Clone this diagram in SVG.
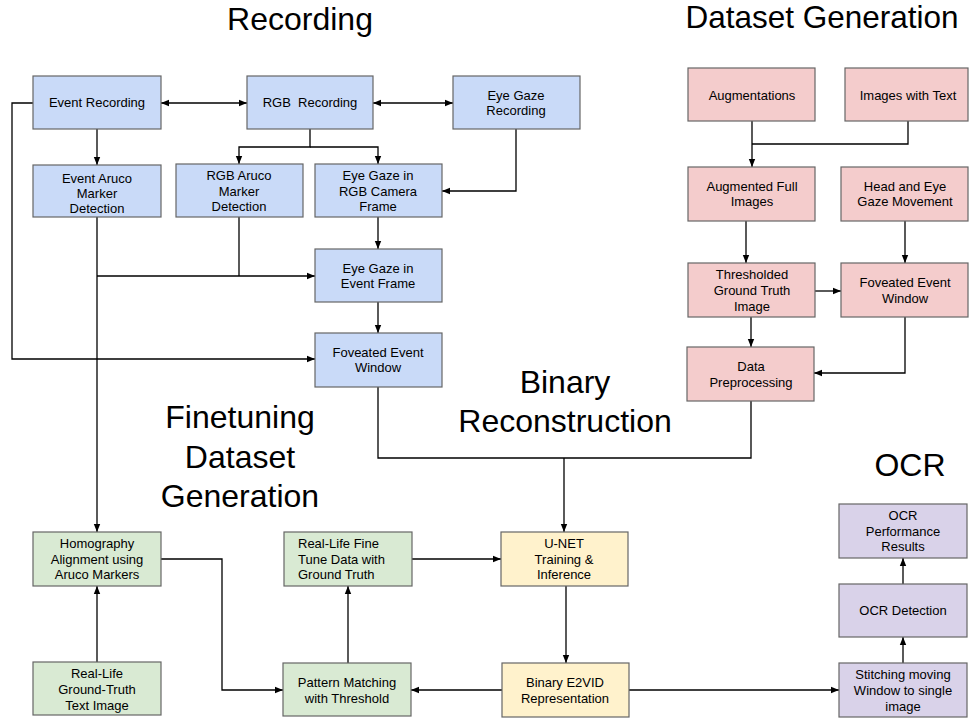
<svg xmlns="http://www.w3.org/2000/svg" width="969" height="719" viewBox="0 0 969 719">
<style>
.box{stroke:#666;stroke-width:1.2}
.b{fill:#c9daf8}.p{fill:#f4cccc}.g{fill:#d9ead3}.y{fill:#fff2cc}.v{fill:#d9d2e9}
text{font-family:"Liberation Sans",Arial,sans-serif;fill:#000}
.t{font-size:13px;text-anchor:middle}
.tl{font-size:13px}
.h{font-size:32px;text-anchor:middle}
.c{fill:none;stroke:#000;stroke-width:1.3}
</style>
<defs>
<marker id="a" viewBox="0 0 10 10" refX="10" refY="5" markerWidth="8" markerHeight="8" markerUnits="userSpaceOnUse" orient="auto-start-reverse">
<path d="M0,1 L10,5 L0,9 z" fill="#000"/>
</marker>
</defs>
<rect width="969" height="719" fill="#fff"/>
<g id="titles">
<text class="h" x="300" y="30">Recording</text>
<text class="h" x="822" y="28" style="font-size:31.5px">Dataset Generation</text>
<text class="h" x="565" y="393">Binary</text>
<text class="h" x="565" y="432">Reconstruction</text>
<text class="h" x="240" y="428">Finetuning</text>
<text class="h" x="240" y="468">Dataset</text>
<text class="h" x="240" y="507">Generation</text>
<text class="h" x="910" y="476">OCR</text>
</g>
<g id="connectors">
<path class="c" d="M161,103 H247" marker-start="url(#a)" marker-end="url(#a)"/>
<path class="c" d="M373,103 H453" marker-start="url(#a)" marker-end="url(#a)"/>
<path class="c" d="M97,129 V165" marker-end="url(#a)"/>
<path class="c" d="M310,129 V147 H239 V164" marker-end="url(#a)"/>
<path class="c" d="M310,147 H378 V164" marker-end="url(#a)"/>
<path class="c" d="M516,129 V191 H442" marker-end="url(#a)"/>
<path class="c" d="M33,103 H12 V359 H315" marker-end="url(#a)"/>
<path class="c" d="M97,217 V532" marker-end="url(#a)"/>
<path class="c" d="M97,276 H315" marker-end="url(#a)"/>
<path class="c" d="M239,217 V276"/>
<path class="c" d="M378,217 V249" marker-end="url(#a)"/>
<path class="c" d="M378,302 V333" marker-end="url(#a)"/>
<path class="c" d="M378,387 V458 H751 V401"/>
<path class="c" d="M564,458 V532" marker-end="url(#a)"/>
<path class="c" d="M752,121 V167" marker-end="url(#a)"/>
<path class="c" d="M908,121 V144 H752"/>
<path class="c" d="M746,221 V263" marker-end="url(#a)"/>
<path class="c" d="M905,221 V263" marker-end="url(#a)"/>
<path class="c" d="M815,291 H841" marker-end="url(#a)"/>
<path class="c" d="M751,317 V347" marker-end="url(#a)"/>
<path class="c" d="M905,317 V373 H814" marker-end="url(#a)"/>
<path class="c" d="M97,662 V586" marker-end="url(#a)"/>
<path class="c" d="M161,559 H222 V690 H283" marker-end="url(#a)"/>
<path class="c" d="M348,663 V586" marker-end="url(#a)"/>
<path class="c" d="M412,559 H501" marker-end="url(#a)"/>
<path class="c" d="M566,586 V663" marker-end="url(#a)"/>
<path class="c" d="M502,690 H411" marker-end="url(#a)"/>
<path class="c" d="M629,690 H839" marker-end="url(#a)"/>
<path class="c" d="M903,663 V637" marker-end="url(#a)"/>
<path class="c" d="M903,584 V558" marker-end="url(#a)"/>
</g>
<g id="event-recording"><rect class="box b" x="33" y="76" width="128" height="53"/><text class="t" x="97" y="107">Event Recording</text></g>
<g id="rgb-recording"><rect class="box b" x="247" y="76" width="126" height="53"/><text class="t" x="310" y="107" xml:space="preserve">RGB  Recording</text></g>
<g id="eye-gaze-recording"><rect class="box b" x="453" y="76" width="127" height="53"/><text class="t" x="516" y="100">Eye Gaze</text><text class="t" x="516" y="115">Recording</text></g>
<g id="event-aruco"><rect class="box b" x="33" y="165" width="128" height="52"/><text class="t" x="97" y="183">Event Aruco</text><text class="t" x="97" y="198">Marker</text><text class="t" x="97" y="213">Detection</text></g>
<g id="rgb-aruco"><rect class="box b" x="176" y="164" width="127" height="53"/><text class="t" x="239" y="180">RGB Aruco</text><text class="t" x="239" y="196">Marker</text><text class="t" x="239" y="211">Detection</text></g>
<g id="eye-gaze-rgb"><rect class="box b" x="315" y="164" width="127" height="53"/><text class="t" x="378" y="180">Eye Gaze in</text><text class="t" x="378" y="196">RGB Camera</text><text class="t" x="378" y="211">Frame</text></g>
<g id="eye-gaze-event"><rect class="box b" x="315" y="249" width="127" height="53"/><text class="t" x="378" y="273">Eye Gaze in</text><text class="t" x="378" y="288">Event Frame</text></g>
<g id="foveated-blue"><rect class="box b" x="315" y="333" width="127" height="54"/><text class="t" x="378" y="357">Foveated Event</text><text class="t" x="378" y="372">Window</text></g>
<g id="augmentations"><rect class="box p" x="688" y="68" width="127" height="53"/><text class="t" x="752" y="100">Augmentations</text></g>
<g id="images-with-text"><rect class="box p" x="845" y="68" width="123" height="53"/><text class="t" x="908" y="100">Images with Text</text></g>
<g id="augmented-full"><rect class="box p" x="688" y="167" width="127" height="54"/><text class="t" x="752" y="191">Augmented Full</text><text class="t" x="752" y="206">Images</text></g>
<g id="head-eye"><rect class="box p" x="841" y="167" width="127" height="54"/><text class="t" x="905" y="191">Head and Eye</text><text class="t" x="905" y="206">Gaze Movement</text></g>
<g id="thresholded"><rect class="box p" x="688" y="263" width="127" height="54"/><text class="t" x="752" y="279">Thresholded</text><text class="t" x="752" y="295">Ground Truth</text><text class="t" x="752" y="311">Image</text></g>
<g id="foveated-pink"><rect class="box p" x="841" y="263" width="127" height="54"/><text class="t" x="905" y="287">Foveated Event</text><text class="t" x="905" y="303">Window</text></g>
<g id="data-preprocessing"><rect class="box p" x="687" y="347" width="127" height="54"/><text class="t" x="751" y="371">Data</text><text class="t" x="751" y="387">Preprocessing</text></g>
<g id="homography"><rect class="box g" x="33" y="532" width="128" height="54"/><text class="t" x="97" y="548">Homography</text><text class="t" x="97" y="564">Alignment using</text><text class="t" x="97" y="579">Aruco Markers</text></g>
<g id="ground-truth-image"><rect class="box g" x="33" y="662" width="128" height="53"/><text class="t" x="97" y="678">Real-Life</text><text class="t" x="97" y="694">Ground-Truth</text><text class="t" x="97" y="710">Text Image</text></g>
<g id="fine-tune-data"><rect class="box g" x="284" y="532" width="128" height="54"/><text class="tl" x="298" y="548">Real-Life Fine</text><text class="tl" x="298" y="564">Tune Data with</text><text class="tl" x="298" y="579">Ground Truth</text></g>
<g id="pattern-matching"><rect class="box g" x="283" y="663" width="128" height="53"/><text class="t" x="347" y="687">Pattern Matching</text><text class="t" x="347" y="703">with Threshold</text></g>
<g id="unet"><rect class="box y" x="501" y="532" width="127" height="54"/><text class="t" x="564" y="548">U-NET</text><text class="t" x="564" y="564">Training &amp;</text><text class="t" x="564" y="579">Inference</text></g>
<g id="binary-e2vid"><rect class="box y" x="502" y="663" width="127" height="54"/><text class="t" x="565" y="687">Binary E2VID</text><text class="t" x="565" y="703">Representation</text></g>
<g id="ocr-results"><rect class="box v" x="839" y="504" width="128" height="54"/><text class="t" x="903" y="520">OCR</text><text class="t" x="903" y="536">Performance</text><text class="t" x="903" y="551">Results</text></g>
<g id="ocr-detection"><rect class="box v" x="839" y="584" width="128" height="53"/><text class="t" x="903" y="615">OCR Detection</text></g>
<g id="stitching"><rect class="box v" x="839" y="663" width="128" height="54"/><text class="t" x="903" y="679">Stitching moving</text><text class="t" x="903" y="695">Window to single</text><text class="t" x="903" y="711">image</text></g>
</svg>
